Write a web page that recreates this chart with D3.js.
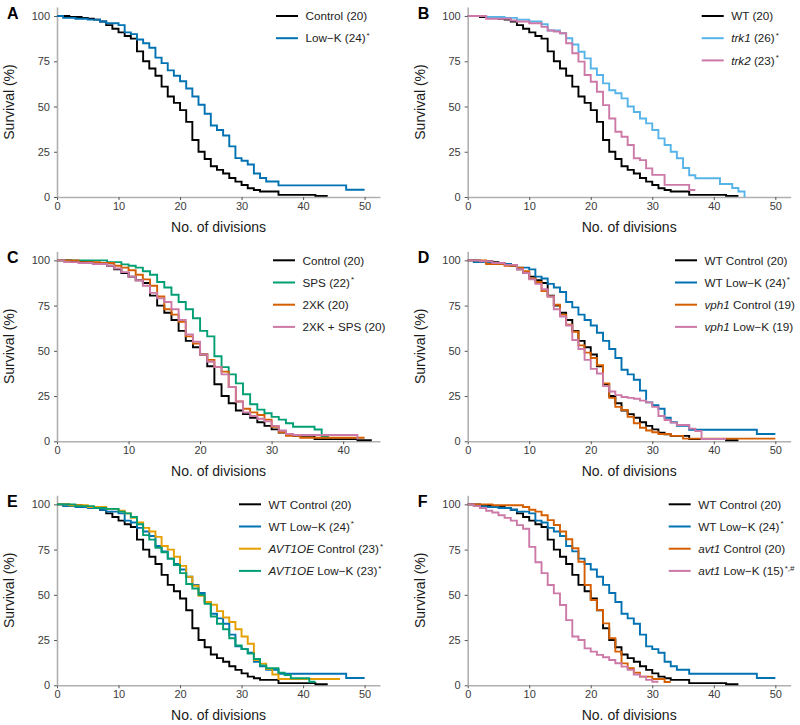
<!DOCTYPE html>
<html><head><meta charset="utf-8">
<script src="https://cdn.jsdelivr.net/npm/d3@7"></script>
<style>
body{margin:0;background:#fff}
svg{display:block}
text{font-family:"Liberation Sans",Arial,Helvetica,sans-serif}
</style>
</head><body>
<svg id="chart" width="800" height="725"></svg>
<script>
// ---------- data: step survival curves (division, % surviving after that step) ----------
const ctrlX = [0,2,4,5,6,7,8,9,10,11,12,13,14,15,16,17,18,19,20,21,22,23,24,25,26,27,28,29,30,31,32,33,36,42,44];
const ctrlY = [100,99.5,99,98.5,98,97,95,93,91,89,87.5,80.5,75,71,67,61,55.5,52,48,41.5,31.5,25,21,17,15,13,10.5,8.5,6.6,4.8,3.9,3,1.2,0.6,0.6];

const lowkX = [0,1,3,5,7,8,10,11,12,13,14,15,16,17,18,19,20,21,22,23,24,25,26,27,28,29,30,31,32,33,34,36,47,50];
const lowkY = [100,99,98.5,98,97,96,95,91,90,87,85,82.5,77,74,70,67,64,60,55.5,51,46,39.5,37,34,28,21.5,20,18,13,10.5,8.6,6.4,4,4];

const trk1X = [0,3,6,8,10,12,13,15,16,17,18,19,20,21,22,23,24,25,26,27,28,29,30,31,32,33,34,35,36,37,41,43,44,45];
const trk1Y = [100,99.5,99,98,97,95.5,92,90.5,87.7,84.3,80.3,76.6,71,67.4,62.8,59,57.3,54.5,50,47,43.4,40.7,37,32.4,28.7,25,21.4,16,12,10.4,7.2,5,3,0];

const trk2X = [0,3,7,8,10,12,13,14,15,16,17,18,19,20,21,22,23,24,25,26,27,28,29,30,32,36,37];
const trk2Y = [100,98.5,97.5,97,96,94,92,91.5,90.5,85,79.4,74.8,67.4,63.7,58.2,50.8,43.4,36.1,33.3,28.7,21.4,20.4,15.8,12.2,6.7,3.9,3.9];

const spsX = [0,7,9,10,11,12,13,14,15,16,17,18,19,20,21,22,23,24,25,26,27,28,29,30,31,32,33,36,37,38];
const spsY = [100,99,97.8,97,96,94,92,88,85,81,77,73,68,61,58,47,41,37,32,26,20.5,17.5,15.5,13.5,12,10,8,6.5,2.5,2.5];

const xkX = [0,3,6,8,9,10,11,12,13,14,15,16,17,18,19,20,21,22,23,24,25,26,27,28,29,30,31,32,34,43];
const xkY = [100,99,98.5,97,96,94.5,92,89.5,86,80,73,70,66,58,54,48,45,41,38.5,30,22,18,16,14.5,12,8,5,3,2,2];

const xspsX = [0,1,3,5,7,8,9,10,11,12,13,14,15,16,17,18,19,20,21,22,23,24,25,26,27,28,29,30,31,32,33,42];
const xspsY = [100,99,98.5,98,97,95.5,93.5,91,89,86,82,79,77,73,67,59,55,48,44,41,37,30,22,16,14,12.5,11,8.5,6,4,3.5,1];

const vph1CtrlX = [0,3,6,8,9,10,11,12,13,14,15,16,17,18,19,20,21,22,23,24,25,26,27,28,29,30,31,33,35,50];
const vph1CtrlY = [100,98,97,96,94,90,88,83,80,75.5,70,64.5,60.5,53,49,46,42,32,24,19,17.3,13.6,10,7.5,6,5,4,3,1.5,1.5];

const vph1LowX = [0,2,4,6,8,9,10,11,12,13,14,15,16,17,18,19,20,21,22,23,24,25,26,27,28,29,30,31,32,33,34,36,37,38,42];
const vph1LowY = [100,99.5,98.5,97.5,95,93,89.5,87,84,80,73,69,64,56,51,45,40,37.5,30.5,27.5,25.5,24.5,24,23.5,22.5,21.5,19,14,11.8,10.3,9,7,5.7,1.3,1.3];

const avtOeCtrlX = [0,2,5,8,10,11,12,13,14,15,16,17,18,19,20,21,22,23,24,25,26,27,28,29,30,31,32,33,34,35,36,46];
const avtOeCtrlY = [100,99.5,98.5,97.5,96.5,95,92.5,90,87,85,82,77,75,71,66,60,55,49.5,46,44.5,41,37.5,35,31,27,23,14,12,9,6,3.5,3.5];

const avtOeLowX = [0,3,6,8,10,11,12,13,14,15,16,17,18,19,20,21,22,23,24,25,26,27,28,29,30,31,32,33,34,36,37,38,41,42];
const avtOeLowY = [100,99,98,97.5,96,95,93,89,83,80.5,76,73.5,70,66.5,62,56,53.5,50,45,38,34,31,26,22,20,17.5,14.5,11,9.4,7,5.7,3.9,2,2];

const avt1CtrlX = [0,4,9,10,11,12,13,14,15,16,17,18,19,20,21,22,23,24,25,26,27,28,30,32,33];
const avt1CtrlY = [100,99.5,98.5,97,96,94,91.3,88.6,85,80.7,75.7,68.3,55.4,47.1,41.6,34.2,26,18.6,12.1,9.4,7,4.8,3.5,1.8,1.8];

const avt1LowX = [0,1,2,3,4,5,6,7,8,9,10,11,12,13,14,15,16,17,18,19,20,21,22,23,24,25,26,27,28,29,30,31];
const avt1LowY = [100,99,98,96.5,95.5,94,92.5,91,88.5,86.5,76.5,68,62,55.4,50.8,44.4,36,27,25,20.4,18.6,16.8,15.5,14,12.2,10.3,8.5,6,4.8,3,2,2];

const yTicks = [0,25,50,75,100];
const xTicks50 = [0,10,20,30,40,50];
const xTicks40 = [0,10,20,30,40];

// legend labels: [italic part, plain part, superscript]
const labA = [["","Control (20)",""],["","Low\u2212K (24)","*"]];
const labB = [["","WT (20)",""],["trk1"," (26)","*"],["trk2"," (23)","*"]];
const labC = [["","Control (20)",""],["","SPS (22)","*"],["","2XK (20)",""],["","2XK + SPS (20)",""]];
const labD = [["","WT Control (20)",""],["","WT Low\u2212K (24)","*"],["vph1"," Control (19)",""],["vph1"," Low\u2212K (19)",""]];
const labE = [["","WT Control (20)",""],["","WT Low\u2212K (24)","*"],["AVT1OE"," Control (23)","*"],["AVT1OE"," Low\u2212K (23)","*"]];
const labF = [["","WT Control (20)",""],["","WT Low\u2212K (24)","*"],["avt1"," Control (20)",""],["avt1"," Low\u2212K (15)","*,#"]];

// ---------- styling / layout ----------
const C = {black:"#000000", blue:"#0072B2", sky:"#56B4E9", pink:"#CC79A7", green:"#009E73", verm:"#D55E00", orange:"#E69F00"};
const L = 57, R = 467.7, AX_W = 323;
const panels = [
  {letter:"A", left:L, y0:197,   xmax:52.5, ticks:xTicks50, legX:276,  labels:labA,
   series:[[ctrlX,ctrlY,C.black],[lowkX,lowkY,C.blue]]},
  {letter:"B", left:R, y0:197,   xmax:52.5, ticks:xTicks50, legX:701.7, labels:labB,
   series:[[ctrlX,ctrlY,C.black],[trk1X,trk1Y,C.sky],[trk2X,trk2Y,C.pink]]},
  {letter:"C", left:L, y0:441.3, xmax:45.15, ticks:xTicks40, legX:273, labels:labC,
   series:[[ctrlX,ctrlY,C.black],[spsX,spsY,C.green],[xkX,xkY,C.verm],[xspsX,xspsY,C.pink]]},
  {letter:"D", left:R, y0:441.3, xmax:52.5, ticks:xTicks50, legX:675, labels:labD,
   series:[[ctrlX,ctrlY,C.black],[lowkX,lowkY,C.blue],[vph1CtrlX,vph1CtrlY,C.verm],[vph1LowX,vph1LowY,C.pink]]},
  {letter:"E", left:L, y0:685.3, xmax:52.5, ticks:xTicks50, legX:239, labels:labE,
   series:[[ctrlX,ctrlY,C.black],[lowkX,lowkY,C.blue],[avtOeCtrlX,avtOeCtrlY,C.orange],[avtOeLowX,avtOeLowY,C.green]]},
  {letter:"F", left:R, y0:685.3, xmax:52.5, ticks:xTicks50, legX:668.7, labels:labF,
   series:[[ctrlX,ctrlY,C.black],[lowkX,lowkY,C.blue],[avt1CtrlX,avt1CtrlY,C.verm],[avt1LowX,avt1LowY,C.pink]]}
];

const svg = d3.select("#chart");
const AXIS_COL = "#b0b0b0";

panels.forEach(p => {
  const g = svg.append("g");
  const x = d3.scaleLinear().domain([0, p.xmax]).range([p.left, p.left + AX_W]);
  const y = d3.scaleLinear().domain([0, 105]).range([p.y0, p.y0 - 190]);

  // axes
  const xa = g.append("g").attr("transform", `translate(0,${p.y0})`)
    .call(d3.axisBottom(x).tickValues(p.ticks).tickSize(3).tickPadding(2).tickSizeOuter(0));
  const ya = g.append("g").attr("transform", `translate(${p.left},0)`)
    .call(d3.axisLeft(y).tickValues(yTicks).tickSize(3).tickPadding(4).tickSizeOuter(0));
  [xa, ya].forEach(a => {
    a.select(".domain").attr("stroke", AXIS_COL).attr("stroke-width", 1.6);
    a.selectAll(".tick line").attr("stroke", "#555").attr("stroke-width", 1);
    a.selectAll(".tick text").attr("fill", "#3a3a3a").attr("font-size", 11)
      .attr("font-family", "'Liberation Sans',Arial,sans-serif");
  });

  // axis titles
  g.append("text").attr("x", p.left + AX_W/2).attr("y", p.y0 + 35)
    .attr("text-anchor", "middle").attr("font-size", 14).attr("fill", "#1a1a1a")
    .text("No. of divisions");
  g.append("text")
    .attr("transform", `translate(${p.left - 43},${p.y0 - 95}) rotate(-90)`)
    .attr("text-anchor", "middle").attr("font-size", 14).attr("fill", "#1a1a1a")
    .text("Survival (%)");

  // panel letter
  g.append("text").attr("x", p.left - 50).attr("y", p.y0 - 178.5)
    .attr("font-size", 16).attr("font-weight", "bold").attr("fill", "#000").text(p.letter);

  // curves
  const line = d3.line().x(d => x(d[0])).y(d => y(d[1])).curve(d3.curveStepAfter);
  p.series.forEach(s => {
    const pts = s[0].map((v, i) => [v, s[1][i]]);
    g.append("path").datum(pts).attr("d", line)
      .attr("fill", "none").attr("stroke", s[2]).attr("stroke-width", 1.9)
      .attr("stroke-linejoin", "miter").attr("stroke-linecap", "butt");
  });

  // legend
  const rowTop = p.y0 - 181;
  p.series.forEach((s, i) => {
    const yy = rowTop + i * 22.2;
    g.append("line").attr("x1", p.legX).attr("x2", p.legX + 22).attr("y1", yy).attr("y2", yy)
      .attr("stroke", s[2]).attr("stroke-width", 2);
    const t = g.append("text").attr("x", p.legX + 29.5).attr("y", yy).attr("dy", "0.36em")
      .attr("font-size", 11.7).attr("fill", "#222");
    const lab = p.labels[i];
    if (lab[0]) t.append("tspan").attr("font-style", "italic").text(lab[0]);
    t.append("tspan").text(lab[1]);
    if (lab[2]) t.append("tspan").attr("font-size", 8).attr("dy", "-0.55em").attr("dx", 1).text(lab[2]);
  });
});
</script>
</body></html>
